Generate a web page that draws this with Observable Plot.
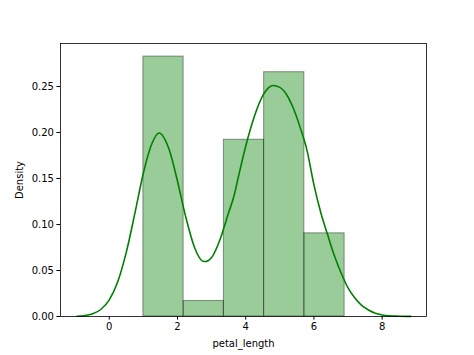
<!DOCTYPE html>
<html>
<head>
<meta charset="utf-8">
<script src="https://cdn.jsdelivr.net/npm/d3@7"></script>
<script src="https://cdn.jsdelivr.net/npm/@observablehq/plot@0.6"></script>
<style>
  html, body { margin: 0; padding: 0; background: white; }
  svg { display: block; }
</style>
</head>
<body>
<div id="chart"></div>
<script>
// Histogram bin edges and density heights (petal_length)
const binEdges = [1.0, 2.18, 3.36, 4.54, 5.72, 6.9];
const density = [0.2825, 0.0169, 0.1921, 0.2655, 0.0904];

// KDE curve
const kdeX = [-0.95, -0.75, -0.5, -0.25, 0.0, 0.25, 0.5, 0.75, 1.0, 1.25, 1.46, 1.75, 2.0, 2.25, 2.5, 2.75, 2.83, 3.0, 3.25, 3.5, 3.66, 3.75, 4.0, 4.25, 4.5, 4.65, 4.8, 5.0, 5.2, 5.4, 5.6, 5.8, 6.0, 6.2, 6.4, 6.6, 6.8, 7.0, 7.2, 7.4, 7.6, 7.8, 8.0, 8.2, 8.5, 8.84];
const kdeY = [0.0003, 0.0009, 0.0027, 0.0076, 0.018, 0.038, 0.070, 0.112, 0.156, 0.188, 0.1995, 0.182, 0.147, 0.107, 0.075, 0.060, 0.0598, 0.064, 0.084, 0.113, 0.1315, 0.146, 0.185, 0.217, 0.240, 0.248, 0.251, 0.249, 0.241, 0.226, 0.205, 0.180, 0.143, 0.113, 0.089, 0.066, 0.047, 0.031, 0.020, 0.012, 0.007, 0.0035, 0.0017, 0.0008, 0.0003, 0.0001];

// Tick values
const xTicks = [0, 2, 4, 6, 8];
const yTicks = [0.00, 0.05, 0.10, 0.15, 0.20, 0.25];

const bins = density.map((d, i) => ({x1: binEdges[i], x2: binEdges[i + 1], y: d}));
const kde = kdeX.map((x, i) => ({x, y: kdeY[i]}));

const chart = Plot.plot({
  width: 474,
  height: 355,
  marginLeft: 60,
  marginRight: 48,
  marginTop: 43,
  marginBottom: 39,
  style: {fontFamily: "DejaVu Sans", fontSize: "10px", background: "white", color: "black"},
  x: {domain: [-1.43, 9.30]},
  y: {domain: [0, 0.2967]},
  marks: [
    Plot.rect(bins, {x1: "x1", x2: "x2", y1: 0, y2: "y", fill: "green", fillOpacity: 0.4, stroke: "black", strokeOpacity: 0.4, strokeWidth: 1}),
    Plot.line(kde, {x: "x", y: "y", stroke: "green", strokeWidth: 1.6, curve: "monotone-x"}),
    Plot.frame({stroke: "black", strokeWidth: 0.8}),
    Plot.axisX({ticks: xTicks, tickSize: 3.6, tickPadding: 3, label: "petal_length", labelAnchor: "center", labelArrow: "none", labelOffset: 30, fontSize: 10}),
    Plot.axisY({ticks: yTicks, tickSize: 3.6, tickPadding: 3, tickFormat: d3.format(".2f"), label: "Density", labelAnchor: "center", labelArrow: "none", labelOffset: 45, fontSize: 10})
  ]
});
document.getElementById("chart").appendChild(chart);
</script>
</body>
</html>
